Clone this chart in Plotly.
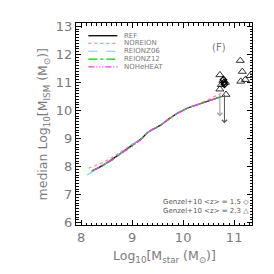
import plotly.graph_objects as go

# ---- data ----
ref_x = [8.22, 8.4, 8.6, 8.8, 9.0, 9.2, 9.3, 9.4, 9.55, 9.7, 9.9, 10.1, 10.3, 10.5, 10.75]
ref_y = [7.85, 8.02, 8.25, 8.5, 8.75, 9.02, 9.22, 9.33, 9.47, 9.68, 9.92, 10.1, 10.22, 10.35, 10.5]

noreion_x = [8.15, 8.4, 8.6, 8.8, 9.0, 9.2, 9.3, 9.4, 9.55, 9.7, 9.9, 10.1, 10.3, 10.5, 10.8]
noreion_y = [7.95, 8.12, 8.32, 8.55, 8.78, 9.03, 9.22, 9.33, 9.47, 9.68, 9.92, 10.1, 10.23, 10.4, 10.66]

reionz06_x = [8.12, 8.25, 8.4, 8.6, 8.8, 9.0, 9.2, 9.3, 9.4, 9.55, 9.7, 9.9, 10.1, 10.3, 10.5, 10.75]
reionz06_y = [7.7, 7.86, 8.02, 8.25, 8.5, 8.75, 9.02, 9.22, 9.33, 9.47, 9.68, 9.92, 10.1, 10.22, 10.35, 10.5]

reionz12_x = [8.2, 8.4, 8.6, 8.8, 9.0, 9.2, 9.3, 9.4, 9.55, 9.7, 9.9, 10.1, 10.3, 10.5, 10.75]
reionz12_y = [7.84, 8.0, 8.22, 8.48, 8.74, 9.01, 9.2, 9.33, 9.46, 9.66, 9.92, 10.1, 10.23, 10.36, 10.5]

noheheat_x = [8.25, 8.4, 8.6, 8.8, 9.0, 9.2, 9.3, 9.4, 9.55, 9.7, 9.9, 10.1, 10.3, 10.5, 10.75]
noheheat_y = [7.87, 8.03, 8.24, 8.5, 8.72, 9.0, 9.2, 9.33, 9.45, 9.66, 9.91, 10.1, 10.22, 10.35, 10.5]

genzel23_x = [10.72, 10.78, 10.83, 10.75, 10.72, 10.84, 11.12, 11.16, 11.13, 11.22, 11.31]
genzel23_y = [11.27, 11.07, 11.0, 10.92, 10.76, 10.57, 11.78, 11.39, 11.04, 11.1, 11.24]

genzel15_x = [10.8, 10.79, 10.81]
genzel15_y = [11.0, 11.1, 10.93]

limit_x = [10.72, 10.81]
limit_top = [10.62, 10.62]
limit_bot = [9.8, 9.55]

x_range = [7.9, 11.35]
y_range = [5.92, 13.12]
x_ticks = [8, 9, 10, 11]
y_ticks = [6, 7, 8, 9, 10, 11, 12, 13]

series = [
    ("REF", ref_x, ref_y, "black", "solid", 1.3),
    ("NOREION", noreion_x, noreion_y, "#ff9090", "dot", 1.3),
    ("REIONZ06", reionz06_x, reionz06_y, "#80c8f0", "dash", 1.1),
    ("REIONZ12", reionz12_x, reionz12_y, "#00d000", "dashdot", 1.1),
    ("NOHeHEAT", noheheat_x, noheheat_y, "#ff30ff", "6px,2px,1px,2px,1px,2px,1px,2px", 1.3),
]

GRAY = "#7a7a7a"
FONT = "DejaVu Sans"

fig = go.Figure()
for name, xs, ys, col, dash, w in series:
    fig.add_trace(go.Scatter(x=xs, y=ys, mode="lines", name=name,
                             line=dict(color=col, dash=dash, width=w)))

fig.add_trace(go.Scatter(x=genzel23_x, y=genzel23_y, mode="markers",
                         marker=dict(symbol="triangle-up-open", size=7,
                                     color="black", line=dict(width=0.8))))
fig.add_trace(go.Scatter(x=genzel15_x, y=genzel15_y, mode="markers",
                         marker=dict(symbol="diamond-open", size=5,
                                     color="black", line=dict(width=1.2))))

limit_cols = ["#9a9a9a", "#555555"]
for lx, lt, lb, c in zip(limit_x, limit_top, limit_bot, limit_cols):
    fig.add_annotation(x=lx, y=lb, ax=lx, ay=lt, xref="x", yref="y",
                       axref="x", ayref="y", showarrow=True, arrowhead=4,
                       arrowsize=1, arrowwidth=1, arrowcolor=c, text="")

# manual legend
leg_y = [0.937, 0.899, 0.86, 0.821, 0.783]
for (name, xs, ys, col, dash, w), yy in zip(series, leg_y):
    fig.add_shape(type="line", xref="paper", yref="paper", x0=0.07, x1=0.235,
                  y0=yy, y1=yy, line=dict(color=col, dash=dash, width=w))
    fig.add_annotation(xref="paper", yref="paper", x=0.265, y=yy, text=name,
                       showarrow=False, xanchor="left", yanchor="middle",
                       borderpad=0,
                       font=dict(size=7, color=GRAY, family=FONT))

fig.add_annotation(xref="paper", yref="paper", x=0.864, y=0.916, text="(F)",
                   showarrow=False, font=dict(size=10, color=GRAY, family=FONT))
fig.add_annotation(xref="paper", yref="paper", x=0.99, y=0.09,
                   text="Genzel+10 &lt;z&gt; = 1.5 ◇<br>Genzel+10 &lt;z&gt; = 2.3 △",
                   showarrow=False, xanchor="right", yanchor="middle", align="right",
                   borderpad=0,
                   font=dict(size=7, color="#555555", family=FONT))

# axis titles
fig.add_annotation(xref="paper", yref="paper", x=0.5, y=-0.158,
                   text="Log<sub>10</sub>[M<sub>star</sub> (M<sub>⊙</sub>)]",
                   showarrow=False, xanchor="center", yanchor="middle",
                   font=dict(size=12.5, color=GRAY, family=FONT))
fig.add_annotation(xref="paper", yref="paper", x=-0.185, y=0.5, textangle=-90,
                   text="median Log<sub>10</sub>[M<sub>ISM</sub> (M<sub>⊙</sub>)]",
                   showarrow=False, xanchor="center", yanchor="middle",
                   font=dict(size=12.5, color=GRAY, family=FONT))

axis_common = dict(showgrid=False, zeroline=False, showline=True,
                   linecolor="black", linewidth=1, mirror="allticks",
                   ticks="inside", ticklen=5, tickcolor="black",
                   automargin=False,
                   tickfont=dict(size=13, color=GRAY, family=FONT),
                   minor=dict(ticks="inside", ticklen=2.5, dtick=0.1,
                              tickcolor="black", showgrid=False))

fig.update_xaxes(range=x_range, tickvals=x_ticks, **axis_common)
fig.update_yaxes(range=y_range, tickvals=y_ticks, **axis_common)

fig.update_layout(width=274, height=274, showlegend=False,
                  margin=dict(l=76, r=22, t=23, b=49),
                  plot_bgcolor="white", paper_bgcolor="white")

fig.write_html("out.html", config={"displayModeBar": False},
               post_script="document.body.style.margin='0';document.body.style.padding='0';")
